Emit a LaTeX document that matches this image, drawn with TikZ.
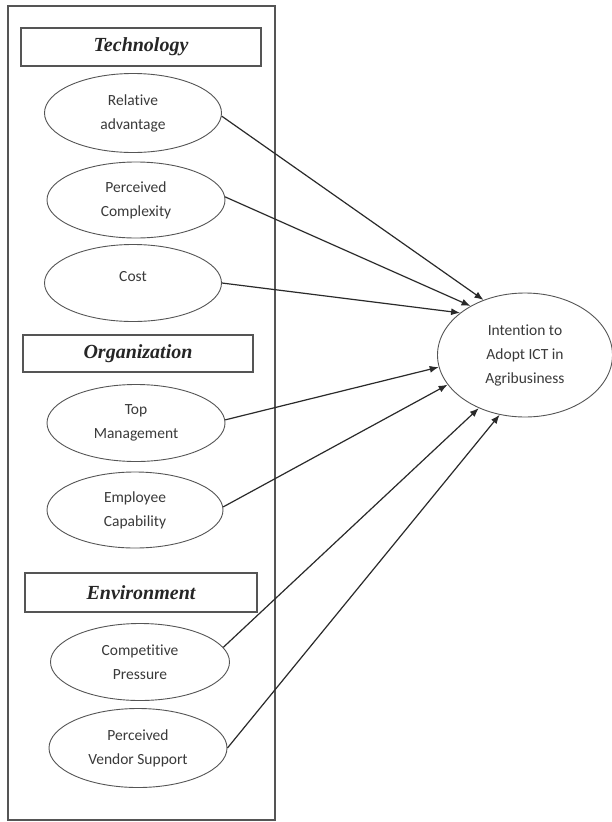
\documentclass[tikz,border=0pt]{standalone}
\usepackage{fontspec}
\setmainfont{Liberation Serif}
\newfontfamily\calibrifont[Ligatures=NoCommon]{Carlito}
\usetikzlibrary{shapes.geometric,arrows.meta}
\definecolor{linegray}{HTML}{555555}
\definecolor{arrowgray}{HTML}{2A2A2A}
\definecolor{textgray}{HTML}{3A3A3A}
\tikzset{
  frame/.style={draw=linegray, line width=1.1pt},
  hdr/.style={draw=linegray, line width=1.3pt, rectangle, inner sep=0pt,
    font=\fontsize{20}{22}\selectfont\bfseries\itshape, text=black!85},
  factor/.style={draw=linegray, line width=0.9pt, ellipse, inner sep=0pt,
    align=center, font=\calibrifont\fontsize{15.5}{24}\selectfont, text=textgray},
  link/.style={draw=arrowgray, line width=1.2pt, -{Latex[length=9pt,width=7pt]}}
}
\begin{document}
\begin{tikzpicture}[x=1pt,y=-1pt]
\useasboundingbox (0,0) rectangle (612,822);
\fill[white] (0,0) rectangle (612,822);
\draw[frame] (8,6) rectangle (275,820);

\node[hdr, minimum width=240pt, minimum height=38pt] (tech) at (141,47) {Technology};
\node[hdr, minimum width=230pt, minimum height=37pt] (org) at (138,353.5) {Organization};
\node[hdr, minimum width=232pt, minimum height=39pt] (env) at (141,592.5) {Environment};

\node[factor, minimum width=177pt, minimum height=79pt] (ra) at (133,113) {Relative\\advantage};
\node[factor, minimum width=178pt, minimum height=76pt] (pc) at (136,200) {Perceived\\Complexity};
\node[factor, minimum width=177pt, minimum height=77pt] (cost) at (133,283) {\raisebox{14pt}{Cost}};
\node[factor, minimum width=178pt, minimum height=77pt] (tm) at (136,423) {Top\\Management};
\node[factor, minimum width=176pt, minimum height=76pt] (ec) at (135,510) {Employee\\Capability};
\node[factor, minimum width=179pt, minimum height=77pt] (cp) at (140,662) {Competitive\\Pressure};
\node[factor, minimum width=178pt, minimum height=79pt] (vs) at (138,748) {Perceived\\Vendor Support};

\node[factor, minimum width=175pt, minimum height=124pt] (target) at (525,355) {Intention to\\Adopt ICT in\\Agribusiness};

\draw[link] (ra.-2) -- (target.127);
\draw[link] (pc.2) -- (target.138);
\draw[link] (cost.east) -- (target.147);
\draw[link] (tm.2) -- (target.188);
\draw[link] (ec.2) -- (target.201);
\draw[link] (cp.10) -- (target.229);
\draw[link] (vs.east) -- (target.247);
\end{tikzpicture}
\end{document}
